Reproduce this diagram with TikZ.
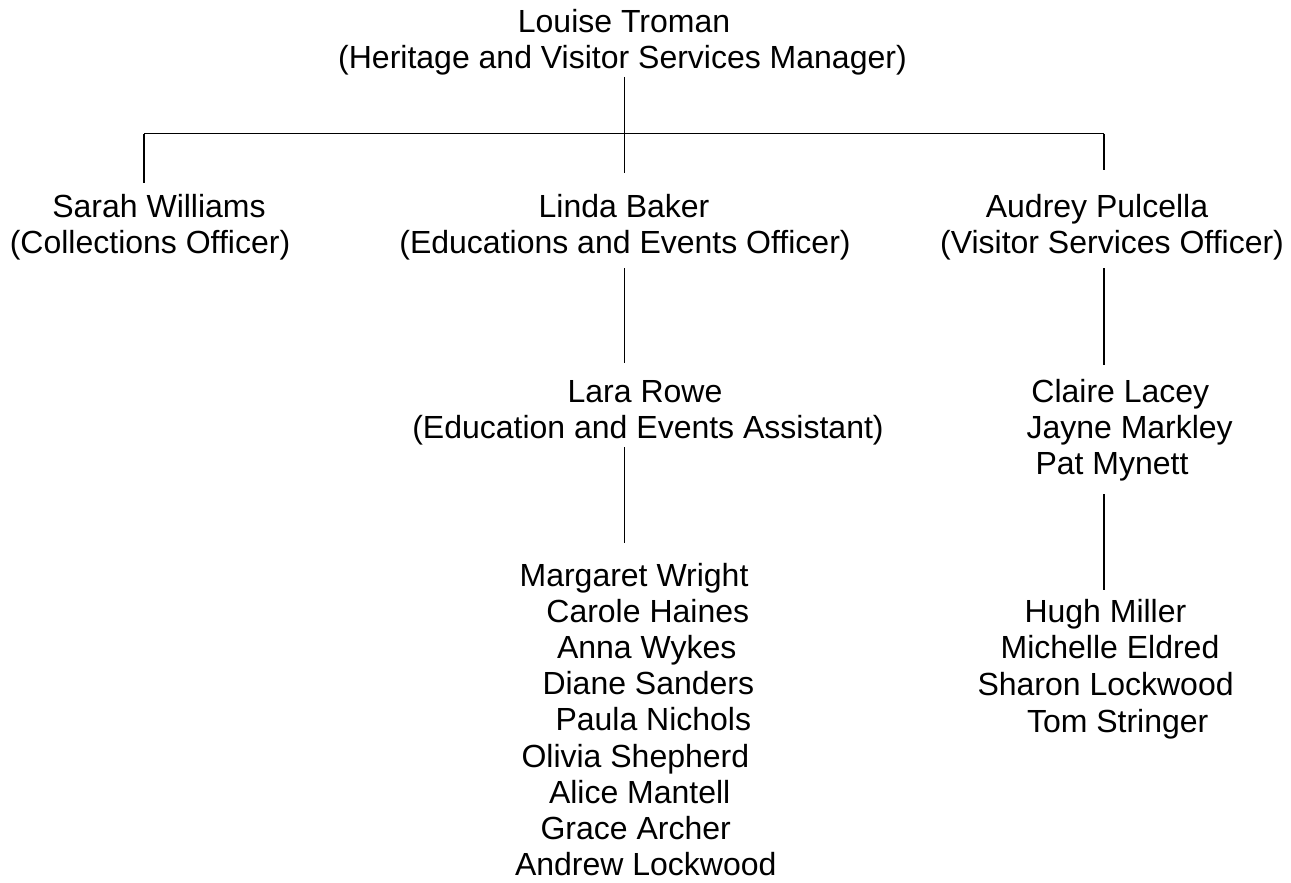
\documentclass[tikz,border=0pt]{standalone}
\usepackage{fontspec}
\setmainfont{Liberation Sans}

\begin{document}
\begin{tikzpicture}[x=1pt, y=-1pt, line width=1.5pt,
  every node/.style={font=\fontsize{32}{36.8}\selectfont, inner xsep=0pt, inner ysep=0pt,
    outer sep=0pt, text height=23pt, text depth=6pt},
  role/.style={anchor=base},
  staff/.style={anchor=base west}]

\useasboundingbox (0,0) rectangle (1291,883);

\coordinate (bus) at (624.5,133.5);
\coordinate (busL) at (144,133.5);
\coordinate (busR) at (1104,133.5);

\node[role] (louise) at (624,33) {Louise Troman};
\node[role, inner ysep=2pt] (louiseR) at (622.5,69) {(Heritage and Visitor Services Manager)};

\node[role, inner ysep=11pt] (sarah) at (159,217) {Sarah Williams};
\node[role] (sarahR) at (150,253) {(Collections Officer)};

\node[role, inner ysep=21pt] (linda) at (624,217) {Linda Baker};
\node[role, inner ysep=9pt] (lindaR) at (625,253) {(Educations and Events Officer)};

\node[role, inner ysep=24pt] (audrey) at (1097,217) {Audrey Pulcella};
\node[role, inner ysep=9pt] (audreyR) at (1112,253) {(Visitor Services Officer)};

\node[role, inner ysep=16pt] (lara) at (645,402) {Lara Rowe};
\node[role, inner ysep=3pt] (laraR) at (648,438) {(Education and Events Assistant)};

\node[staff, inner ysep=20pt] (margaret) at (519.6,586) {Margaret Wright};
\node[staff] (carole) at (546.4,622.2) {Carole Haines};
\node[staff] (anna) at (557,658.4) {Anna Wykes};
\node[staff] (diane) at (542.5,694.6) {Diane Sanders};
\node[staff] (paula) at (555.5,730.8) {Paula Nichols};
\node[staff] (olivia) at (521.5,767) {Olivia Shepherd};
\node[staff] (alice) at (549,803.2) {Alice Mantell};
\node[staff] (grace) at (540.5,839.4) {Grace Archer};
\node[staff] (andrew) at (515,875.6) {Andrew Lockwood};

\node[staff, inner ysep=14pt] (claire) at (1031.4,402) {Claire Lacey};
\node[staff] (jayne) at (1026.5,438) {Jayne Markley};
\node[staff, inner ysep=14pt] (pat) at (1035.5,474) {Pat Mynett};

\node[staff, inner ysep=9pt] (hugh) at (1024.5,622) {Hugh Miller};
\node[staff] (michelle) at (1000.6,658.7) {Michelle Eldred};
\node[staff] (sharon) at (977.5,695.4) {Sharon Lockwood};
\node[staff] (tom) at (1027,732) {Tom Stringer};

\draw (louiseR.south -| bus) -- (linda.north -| bus);
\draw (busL) -- (busR);
\draw (busL) -- (sarah.north -| busL);
\draw (busR) -- (audrey.north -| busR);

\draw (lindaR.south -| bus) -- (lara.north -| bus);
\draw (laraR.south -| bus) -- (margaret.north -| bus);

\draw (audreyR.south -| busR) -- (claire.north -| busR);
\draw (pat.south -| busR) -- (hugh.north -| busR);

\end{tikzpicture}
\end{document}
